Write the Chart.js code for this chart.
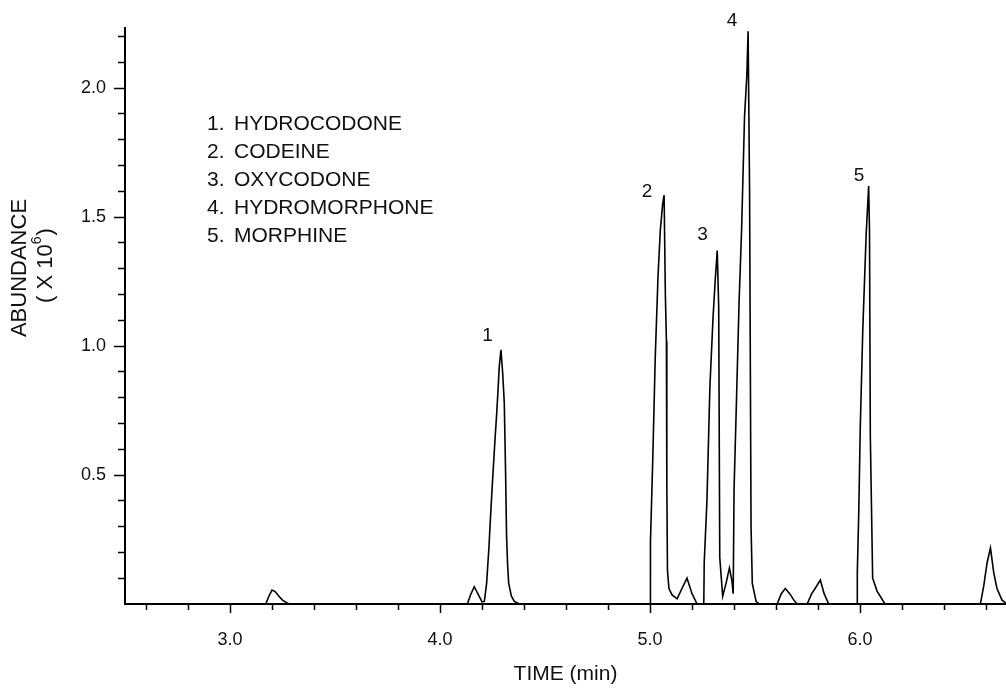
<!DOCTYPE html>
<html>
<head>
<meta charset="utf-8">
<script src="https://cdn.jsdelivr.net/npm/chart.js@4.4.1/dist/chart.umd.min.js"></script>
<style>
  html, body { margin: 0; padding: 0; background: #ffffff; }
  #wrap { width: 1006px; height: 691px; }
</style>
</head>
<body>
<div id="wrap"><canvas id="c" width="1006" height="691"></canvas></div>
<script>
// ---- Data ----
const times = [
  2.50, 3.17, 3.185, 3.20, 3.215, 3.235, 3.25, 3.28,
  4.13, 4.145, 4.163, 4.18, 4.20, 4.211, 4.222, 4.227, 4.233, 4.238, 4.246, 4.254,
  4.262, 4.27, 4.277, 4.282, 4.29, 4.298, 4.306, 4.312, 4.317, 4.322, 4.327, 4.34, 4.354, 4.378,
  5.000, 5.002, 5.013, 5.025, 5.038, 5.049, 5.060, 5.067, 5.073, 5.078, 5.080, 5.083, 5.090,
  5.105, 5.129, 5.152, 5.176, 5.200, 5.224,
  5.256, 5.258, 5.271, 5.285, 5.300, 5.310, 5.320, 5.327, 5.332, 5.346, 5.362, 5.378, 5.390,
  5.396, 5.400, 5.412, 5.424, 5.436, 5.450, 5.461, 5.467, 5.474, 5.481, 5.487, 5.505, 5.520,
  5.605, 5.625, 5.644, 5.665, 5.685, 5.700,
  5.748, 5.770, 5.786, 5.811, 5.829, 5.851,
  5.986, 5.987, 5.994, 6.001, 6.013, 6.029, 6.041, 6.045, 6.049, 6.060, 6.081, 6.119,
  6.573, 6.589, 6.605, 6.621, 6.637, 6.652, 6.676, 6.70
];
const abundance = [
  0, 0, 0.03, 0.054, 0.048, 0.028, 0.015, 0,
  0, 0.035, 0.067, 0.04, 0.008, 0.01, 0.08, 0.145, 0.22, 0.30, 0.42, 0.53,
  0.64, 0.74, 0.84, 0.92, 0.985, 0.90, 0.78, 0.52, 0.26, 0.15, 0.08, 0.03, 0.01, 0,
  0, 0.24, 0.56, 0.96, 1.27, 1.45, 1.55, 1.585, 1.20, 1.02, 0.47, 0.13, 0.06,
  0.035, 0.02, 0.06, 0.10, 0.04, 0,
  0, 0.16, 0.40, 0.84, 1.11, 1.25, 1.37, 1.15, 0.18, 0.03, 0.08, 0.14, 0.09,
  0.04, 0.44, 0.80, 1.17, 1.45, 1.89, 2.05, 2.22, 1.60, 0.30, 0.08, 0.01, 0,
  0, 0.04, 0.06, 0.04, 0.015, 0,
  0, 0.04, 0.06, 0.093, 0.04, 0,
  0, 0.12, 0.36, 0.68, 1.06, 1.43, 1.62, 1.45, 0.65, 0.10, 0.05, 0,
  0, 0.07, 0.16, 0.217, 0.12, 0.06, 0.015, 0
];

const xTickValues = [2.6, 2.8, 3.0, 3.2, 3.4, 3.6, 3.8, 4.0, 4.2, 4.4, 4.6, 4.8, 5.0, 5.2, 5.4, 5.6, 5.8, 6.0, 6.2, 6.4, 6.6];
const xMajorTicks = [3.0, 4.0, 5.0, 6.0];
const yTickValues = [0.1, 0.2, 0.3, 0.4, 0.5, 0.6, 0.7, 0.8, 0.9, 1.0, 1.1, 1.2, 1.3, 1.4, 1.5, 1.6, 1.7, 1.8, 1.9, 2.0, 2.1, 2.2];
const yMajorTicks = [0.5, 1.0, 1.5, 2.0];

const compoundNumbers = ['1.', '2.', '3.', '4.', '5.'];
const compoundNames = ['HYDROCODONE', 'CODEINE', 'OXYCODONE', 'HYDROMORPHONE', 'MORPHINE'];

const peakLabels = ['1', '2', '3', '4', '5'];
const peakLabelTimes = [4.226, 4.986, 5.250, 5.390, 5.995];
const peakLabelValues = [1.039, 1.599, 1.432, 2.260, 1.659];

const FONT = '"Liberation Sans", Arial, Helvetica, sans-serif';
const TEXT = '#111111';

const isMajor = (v, list) => list.some(m => Math.abs(m - v) < 1e-6);

const annotations = {
  id: 'annotations',
  afterDraw(chart) {
    const { ctx, scales: { x, y } } = chart;
    ctx.save();
    ctx.fillStyle = TEXT;

    // compound list
    ctx.font = '21px ' + FONT;
    ctx.textBaseline = 'middle';
    ctx.textAlign = 'left';
    compoundNames.forEach((name, i) => {
      const yy = 124 + i * 28;
      ctx.fillText(compoundNumbers[i], 207, yy);
      ctx.fillText(name, 234, yy);
    });

    // peak numbers
    ctx.font = '19px ' + FONT;
    ctx.textAlign = 'center';
    peakLabels.forEach((lab, i) => {
      ctx.fillText(lab, x.getPixelForValue(peakLabelTimes[i]), y.getPixelForValue(peakLabelValues[i]));
    });

    // y-axis title (two rotated lines)
    ctx.save();
    ctx.translate(20, 268);
    ctx.rotate(-Math.PI / 2);
    ctx.font = '22px ' + FONT;
    ctx.textAlign = 'center';
    ctx.fillText('ABUNDANCE', 0, 0);
    ctx.restore();

    ctx.save();
    ctx.translate(46, 266);
    ctx.rotate(-Math.PI / 2);
    ctx.textAlign = 'left';
    const mainFont = '22px ' + FONT;
    const supFont = '14px ' + FONT;
    ctx.font = mainFont;
    const p1 = '( X 10', p3 = ')';
    const w1 = ctx.measureText(p1).width;
    const w3 = ctx.measureText(p3).width;
    ctx.font = supFont;
    const w2 = ctx.measureText('6').width;
    const sx = -(w1 + w2 + w3) / 2;
    ctx.font = mainFont;
    ctx.fillText(p1, sx, 0);
    ctx.font = supFont;
    ctx.fillText('6', sx + w1, -9);
    ctx.font = mainFont;
    ctx.fillText(p3, sx + w1 + w2 + 1, 0);
    ctx.restore();

    ctx.restore();
  }
};

new Chart(document.getElementById('c'), {
  type: 'line',
  data: {
    datasets: [{
      data: times.map((t, i) => ({ x: t, y: abundance[i] })),
      borderColor: '#000000',
      borderWidth: 1.6,
      pointRadius: 0,
      fill: false,
      tension: 0
    }]
  },
  options: {
    responsive: false,
    devicePixelRatio: 1,
    animation: false,
    layout: { padding: { top: 28, right: 0, left: 0, bottom: 0 } },
    plugins: { legend: { display: false }, tooltip: { enabled: false } },
    scales: {
      x: {
        type: 'linear',
        min: 2.5,
        max: 6.695,
        afterBuildTicks: s => { s.ticks = xTickValues.map(v => ({ value: v })); },
        afterFit: s => { s.height = 87; },
        ticks: {
          autoSkip: false,
          maxRotation: 0,
          padding: 16,
          color: TEXT,
          font: { family: FONT, size: 18 },
          callback: v => isMajor(v, xMajorTicks) ? Number(v).toFixed(1) : ''
        },
        grid: {
          drawOnChartArea: false,
          drawTicks: true,
          tickLength: 9,
          color: '#000',
          tickColor: '#000',
          tickWidth: 1.5,
          tickBorderDash: c => (c.tick && isMajor(c.tick.value, xMajorTicks)) ? [] : [5, 100]
        },
        border: { display: true, color: '#000', width: 2 },
        title: {
          display: true,
          text: 'TIME (min)',
          color: TEXT,
          font: { family: FONT, size: 21 },
          padding: { top: 0, bottom: 4 }
        }
      },
      y: {
        type: 'linear',
        min: 0,
        max: 2.233,
        afterBuildTicks: s => { s.ticks = yTickValues.map(v => ({ value: v })); },
        afterFit: s => { s.width = 125; },
        ticks: {
          autoSkip: false,
          padding: 8,
          color: TEXT,
          font: { family: FONT, size: 18 },
          callback: v => isMajor(v, yMajorTicks) ? Number(v).toFixed(1) : ''
        },
        grid: {
          drawOnChartArea: false,
          drawTicks: true,
          tickLength: 11,
          color: '#000',
          tickColor: '#000',
          tickWidth: 1.5,
          tickBorderDash: c => (c.tick && isMajor(c.tick.value, yMajorTicks)) ? [] : [0, 4, 6, 100]
        },
        border: { display: true, color: '#000', width: 2 }
      }
    }
  },
  plugins: [annotations]
});
</script>
</body>
</html>
